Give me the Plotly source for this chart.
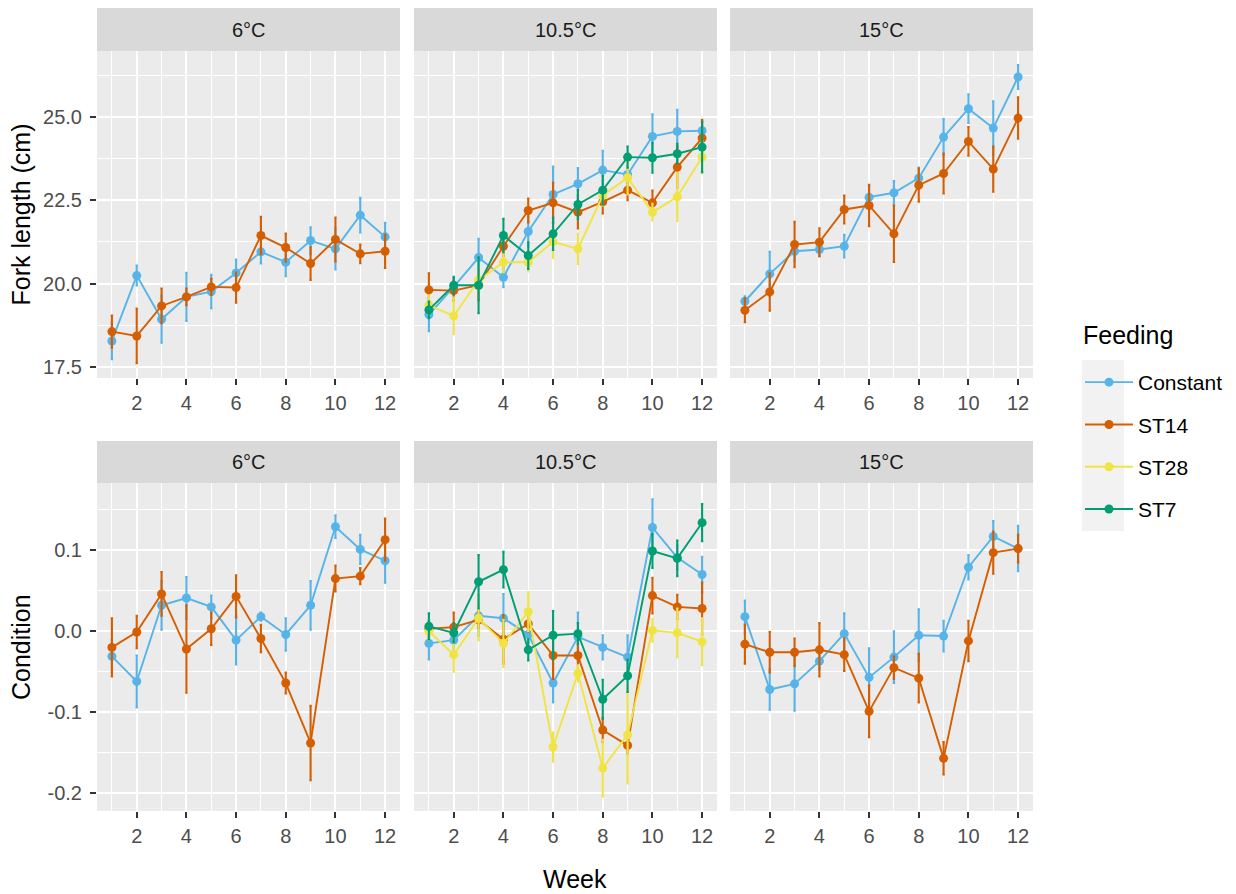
import plotly.graph_objects as go

W, H = 1236, 894

weeks = list(range(1, 13))
temperatures = ["6°C", "10.5°C", "15°C"]
feedings = ["Constant", "ST14", "ST28", "ST7"]
feeding_colors = ["#56B4E9", "#D55E00", "#F0E442", "#009E73"]

# ---- Fork length (cm): means and error half-widths ----
fl_6_constant = [18.28, 20.24, 18.93, 19.60, 19.76, 20.32, 20.95, 20.64, 21.29, 21.04, 22.05, 21.40]
fl_6_constant_err = [0.55, 0.30, 0.70, 0.72, 0.50, 0.40, 0.35, 0.42, 0.40, 0.62, 0.52, 0.42]
fl_6_st14 = [18.56, 18.43, 19.33, 19.60, 19.90, 19.88, 21.44, 21.08, 20.60, 21.32, 20.89, 20.97]
fl_6_st14_err = [0.48, 0.82, 0.52, 0.25, 0.24, 0.45, 0.56, 0.42, 0.49, 0.66, 0.28, 0.50]

fl_105_constant = [19.07, 19.90, 20.78, 20.19, 21.56, 22.67, 22.99, 23.40, 23.27, 24.41, 24.56, 24.58]
fl_105_constant_err = [0.50, 0.25, 0.56, 0.30, 0.45, 0.84, 0.47, 0.58, 0.25, 0.66, 0.65, 0.30]
fl_105_st14 = [19.81, 19.79, 19.95, 21.12, 22.19, 22.42, 22.14, 22.45, 22.80, 22.42, 23.49, 24.36]
fl_105_st14_err = [0.50, 0.30, 0.45, 0.30, 0.36, 0.60, 0.49, 0.35, 0.30, 0.37, 0.62, 0.55]
fl_105_st28 = [19.35, 19.03, 20.10, 20.64, 20.64, 21.25, 21.04, 22.64, 23.17, 22.14, 22.60, 23.79]
fl_105_st28_err = [0.30, 0.55, 0.30, 0.30, 0.28, 0.48, 0.45, 0.30, 0.50, 0.25, 0.72, 0.48]
fl_105_st7 = [19.21, 19.95, 19.95, 21.44, 20.84, 21.49, 22.37, 22.80, 23.79, 23.77, 23.89, 24.09]
fl_105_st7_err = [0.25, 0.25, 0.84, 0.50, 0.40, 0.48, 0.43, 0.43, 0.32, 0.45, 0.30, 0.75]

fl_15_constant = [19.47, 20.29, 20.97, 21.02, 21.12, 22.59, 22.72, 23.16, 24.39, 25.24, 24.66, 26.19]
fl_15_constant_err = [0.15, 0.66, 0.30, 0.20, 0.34, 0.33, 0.35, 0.32, 0.54, 0.43, 0.80, 0.36]
fl_15_st14 = [19.20, 19.75, 21.17, 21.24, 22.22, 22.34, 21.49, 22.95, 23.30, 24.26, 23.43, 24.96]
fl_15_st14_err = [0.36, 0.56, 0.68, 0.42, 0.42, 0.62, 0.84, 0.50, 0.60, 0.43, 0.68, 0.62]

# ---- Condition: means and error half-widths ----
cond_6_constant = [-0.031, -0.062, 0.032, 0.041, 0.030, -0.011, 0.018, -0.004, 0.032, 0.129, 0.101, 0.087]
cond_6_constant_err = [0.020, 0.032, 0.030, 0.026, 0.014, 0.030, 0.005, 0.020, 0.030, 0.014, 0.018, 0.027]
cond_6_st14 = [-0.020, -0.001, 0.046, -0.022, 0.003, 0.043, -0.009, -0.064, -0.138, 0.065, 0.068, 0.113]
cond_6_st14_err = [0.036, 0.020, 0.027, 0.054, 0.020, 0.026, 0.017, 0.013, 0.046, 0.016, 0.010, 0.026]

cond_105_constant = [-0.015, -0.011, 0.019, 0.016, -0.004, -0.064, -0.007, -0.020, -0.032, 0.128, 0.091, 0.070]
cond_105_constant_err = [0.020, 0.015, 0.025, 0.030, 0.010, 0.024, 0.030, 0.015, 0.027, 0.035, 0.015, 0.022]
cond_105_st14 = [0.003, 0.005, 0.014, -0.010, 0.009, -0.030, -0.030, -0.122, -0.141, 0.044, 0.030, 0.028]
cond_105_st14_err = [0.010, 0.018, 0.010, 0.030, 0.010, 0.029, 0.018, 0.015, 0.010, 0.022, 0.015, 0.032]
cond_105_st28 = [0.000, -0.029, 0.016, -0.015, 0.024, -0.143, -0.052, -0.169, -0.128, 0.001, -0.002, -0.013]
cond_105_st28_err = [0.010, 0.021, 0.027, 0.029, 0.024, 0.018, 0.010, 0.035, 0.060, 0.014, 0.030, 0.029]
cond_105_st7 = [0.006, -0.002, 0.061, 0.076, -0.023, -0.005, -0.003, -0.084, -0.055, 0.099, 0.090, 0.134]
cond_105_st7_err = [0.016, 0.012, 0.033, 0.022, 0.013, 0.030, 0.013, 0.024, 0.020, 0.021, 0.022, 0.023]

cond_15_constant = [0.018, -0.072, -0.065, -0.037, -0.003, -0.057, -0.032, -0.005, -0.006, 0.079, 0.117, 0.102]
cond_15_constant_err = [0.020, 0.025, 0.033, 0.010, 0.025, 0.036, 0.032, 0.032, 0.019, 0.015, 0.019, 0.028]
cond_15_st14 = [-0.016, -0.026, -0.026, -0.023, -0.029, -0.099, -0.045, -0.058, -0.157, -0.012, 0.097, 0.102]
cond_15_st14_err = [0.024, 0.025, 0.017, 0.033, 0.020, 0.032, 0.014, 0.030, 0.020, 0.025, 0.026, 0.017]

# panel index -> list of (feeding, mean, err)
panels = [
    [("Constant", fl_6_constant, fl_6_constant_err), ("ST14", fl_6_st14, fl_6_st14_err)],
    [("Constant", fl_105_constant, fl_105_constant_err), ("ST14", fl_105_st14, fl_105_st14_err),
     ("ST28", fl_105_st28, fl_105_st28_err), ("ST7", fl_105_st7, fl_105_st7_err)],
    [("Constant", fl_15_constant, fl_15_constant_err), ("ST14", fl_15_st14, fl_15_st14_err)],
    [("Constant", cond_6_constant, cond_6_constant_err), ("ST14", cond_6_st14, cond_6_st14_err)],
    [("Constant", cond_105_constant, cond_105_constant_err), ("ST14", cond_105_st14, cond_105_st14_err),
     ("ST28", cond_105_st28, cond_105_st28_err), ("ST7", cond_105_st7, cond_105_st7_err)],
    [("Constant", cond_15_constant, cond_15_constant_err), ("ST14", cond_15_st14, cond_15_st14_err)],
]

# pixel geometry of the facet grid
col_px = [(97, 400), (414, 717), (730, 1033)]
row_px = [(51, 378), (483, 811)]
strip_px = [(8, 51), (441, 483)]

def fx(px):
    return px / W

def fy(py):
    return (H - py) / H

color_of = dict(zip(feedings, feeding_colors))
fig = go.Figure()
shown = set()

# draw in legend order so the legend lists Constant, ST14, ST28, ST7
for feed in feedings:
    for i, series in enumerate(panels):
        for name, mean, err in series:
            if name != feed:
                continue
            ax = "" if i == 0 else str(i + 1)
            fig.add_trace(go.Scatter(
                x=weeks, y=mean,
                mode="lines+markers",
                name=name, legendgroup=name,
                showlegend=name not in shown,
                line=dict(color=color_of[name], width=1.9),
                marker=dict(color=color_of[name], size=9),
                error_y=dict(type="data", array=err, visible=True,
                             color=color_of[name], thickness=2.1, width=1.2),
                xaxis="x" + ax, yaxis="y" + ax,
            ))
            shown.add(name)

label_size = 20

layout = dict(
    width=W, height=H,
    margin=dict(l=0, r=0, t=0, b=0),
    paper_bgcolor="white",
    plot_bgcolor="#EBEBEB",
    font=dict(family="Liberation Sans, Arial, sans-serif", color="#4D4D4D"),
    showlegend=True,
    legend=dict(
        x=fx(1080), y=fy(362), xanchor="left", yanchor="top",
        bgcolor="rgba(0,0,0,0)",
        font=dict(size=21, color="black"),
        tracegroupgap=12,
        itemwidth=48,
    ),
)

y_ranges = [[17.17, 26.97], [-0.222, 0.183]]
y_ticks = [[17.5, 20.0, 22.5, 25.0], [-0.2, -0.1, 0.0, 0.1]]
y_ticktext = [["17.5", "20.0", "22.5", "25.0"], ["-0.2", "-0.1", "0.0", "0.1"]]
y_minor = [[18.75, 21.25, 23.75, 26.25], [-0.15, -0.05, 0.05, 0.15]]

shapes = []
annotations = []
for i in range(6):
    r, c = divmod(i, 3)
    key = "" if i == 0 else str(i + 1)
    x0, x1 = col_px[c]
    y0, y1 = row_px[r]
    layout["xaxis" + key] = dict(
        domain=[fx(x0), fx(x1)], anchor="y" + key,
        range=[0.4, 12.6], tickvals=[2, 4, 6, 8, 10, 12],
        showgrid=True, gridcolor="white", gridwidth=2,
        minor=dict(tickvals=[1, 3, 5, 7, 9, 11], showgrid=True,
                   gridcolor="white", gridwidth=1),
        ticks="outside", ticklen=6, tickwidth=1.8, tickcolor="#333333",
        tickfont=dict(size=label_size, color="#4D4D4D"), ticklabelstandoff=1,
        zeroline=False, showline=False, fixedrange=True,
    )
    layout["yaxis" + key] = dict(
        domain=[fy(y1), fy(y0)], anchor="x" + key,
        range=y_ranges[r], tickvals=y_ticks[r], ticktext=y_ticktext[r],
        showgrid=True, gridcolor="white", gridwidth=2,
        minor=dict(tickvals=y_minor[r], showgrid=True,
                   gridcolor="white", gridwidth=1),
        ticks="outside" if c == 0 else "", ticklen=6, tickwidth=1.8,
        tickcolor="#333333", showticklabels=(c == 0),
        tickfont=dict(size=label_size, color="#4D4D4D"), ticklabelstandoff=4,
        zeroline=False, showline=False, fixedrange=True,
    )
    s0, s1 = strip_px[r]
    shapes.append(dict(type="rect", xref="paper", yref="paper",
                       x0=fx(x0), x1=fx(x1), y0=fy(s1), y1=fy(s0),
                       fillcolor="#D9D9D9", line=dict(width=0), layer="below"))
    annotations.append(dict(text=temperatures[c], xref="paper", yref="paper",
                            x=fx((x0 + x1) / 2), y=fy((s0 + s1) / 2),
                            showarrow=False, xanchor="center", yanchor="middle",
                            font=dict(size=label_size, color="#1A1A1A")))

# grey key background behind the legend symbols
shapes.append(dict(type="rect", xref="paper", yref="paper",
                   x0=fx(1082), x1=fx(1124), y0=fy(531), y1=fy(360),
                   fillcolor="#F2F2F2", line=dict(width=0), layer="below"))

title_font = dict(size=25, color="black")
annotations += [
    dict(text="Fork length (cm)", xref="paper", yref="paper", x=fx(21), y=fy(214.5),
         xanchor="center", yanchor="middle",
         textangle=-90, showarrow=False, font=title_font),
    dict(text="Condition", xref="paper", yref="paper", x=fx(21), y=fy(647),
         xanchor="center", yanchor="middle",
         textangle=-90, showarrow=False, font=title_font),
    dict(text="Week", xref="paper", yref="paper", x=fx(575), y=fy(879),
         xanchor="center", yanchor="middle", showarrow=False, font=title_font),
    dict(text="Feeding", xref="paper", yref="paper", x=fx(1081), y=fy(335),
         xanchor="left", yanchor="middle", showarrow=False, font=title_font),
]

layout["shapes"] = shapes
layout["annotations"] = annotations
fig.update_layout(**layout)

fig.write_html("out.html")
